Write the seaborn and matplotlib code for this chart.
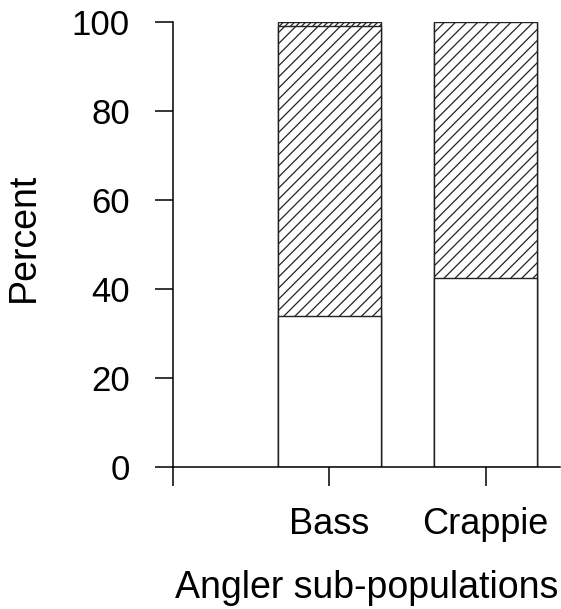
import numpy as np
import pandas as pd
import matplotlib
matplotlib.use("Agg")
import matplotlib.pyplot as plt
import seaborn as sns

categories = ["Bass", "Crappie"]
lower_pct = [34, 42.5]
middle_pct = [65, 57.5]
top_pct = [1, 0]
tick_labels = ["", "Bass", "Crappie"]

sns.set_theme(style="ticks")
plt.rcParams['font.family'] = ['Liberation Sans', 'DejaVu Sans']
plt.rcParams['hatch.linewidth'] = 0.9
plt.rcParams['hatch.color'] = '#2a2a2a'

fig = plt.figure(figsize=(5.61, 6.09), dpi=100)
ax = fig.add_axes([0.3084, 0.2332, 0.6898, 0.7307])

cum_lower = np.array(lower_pct)
cum_mid = cum_lower + np.array(middle_pct)
cum_top = cum_mid + np.array(top_pct)

df = pd.DataFrame({"cat": categories, "top": cum_top, "mid": cum_mid, "low": cum_lower})

sns.barplot(data=df, x="cat", y="top", order=categories, width=0.66, color="white",
            edgecolor="black", linewidth=1.0, hatch="//////", ax=ax, saturation=1)
sns.barplot(data=df, x="cat", y="mid", order=categories, width=0.66, color="white",
            edgecolor="black", linewidth=1.0, hatch="///", ax=ax, saturation=1)
sns.barplot(data=df, x="cat", y="low", order=categories, width=0.66, color="white",
            edgecolor="#555555", linewidth=1.0, ax=ax, saturation=1)
for p in ax.patches:
    p.set_edgecolor("#222222")

ax.set_xlim(-1, 1.476)
ax.set_ylim(0, 100)
ax.set_yticks([0, 20, 40, 60, 80, 100])
ax.set_xticks([-1, 0, 1])
ax.set_xticklabels(tick_labels)
ax.set_ylabel("Percent", fontsize=27, color='black')
ax.yaxis.set_label_coords(-0.340, 0.517)
ax.set_xlabel("Angler sub-populations", fontsize=27, labelpad=20, color='black')
ax.tick_params(axis='y', direction='out', length=13, width=1.1, pad=18, labelsize=25, colors='black')
ax.tick_params(axis='x', direction='out', length=14, width=1.1, pad=15, labelsize=26, colors='black')
for s in ['top', 'right']:
    ax.spines[s].set_visible(False)
for s in ['left', 'bottom']:
    ax.spines[s].set_linewidth(1.1)
    ax.spines[s].set_color('black')

fig.savefig("out.png", dpi=100, facecolor="white")
